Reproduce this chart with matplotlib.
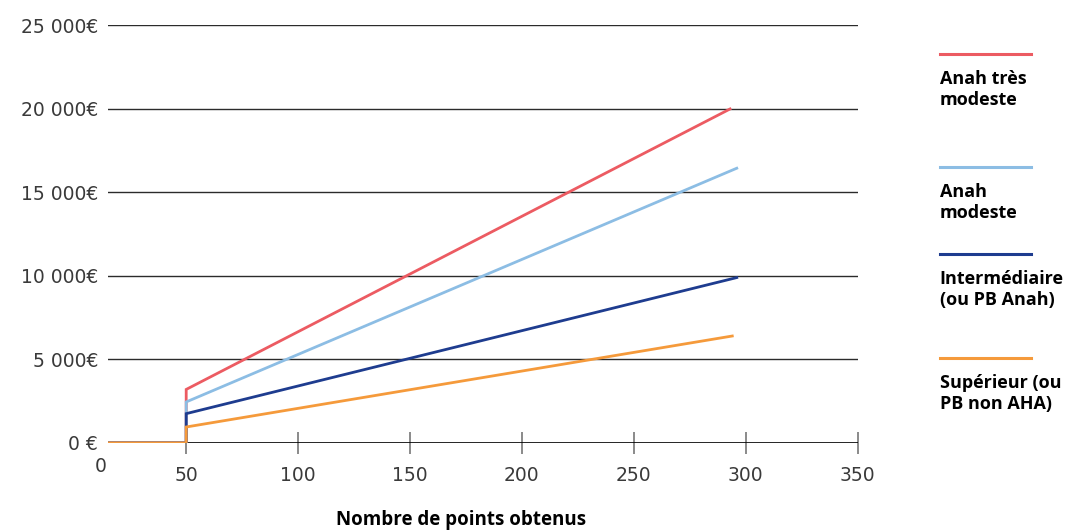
import matplotlib.pyplot as plt
from matplotlib.lines import Line2D

plt.rcParams['font.family'] = ['DejaVu Sans']

# data: points -> aid amount (0 up to 50 points, then linear)
series_names = ["Anah très\nmodeste", "Anah\nmodeste",
                "Intermédiaire\n(ou PB Anah)", "Supérieur (ou\nPB non AHA)"]
series_colors = ["#EC5B62", "#8CBDE4", "#1E3C8F", "#F59A3B"]
x_start = [0, 50, 50]
x_end = [293, 296, 296, 294]
y_at_50 = [3200, 2450, 1750, 950]
y_at_end = [20000, 16450, 9900, 6400]

y_ticks = [0, 5000, 10000, 15000, 20000, 25000]
y_labels = ["0 €", "5 000€", "10 000€", "15 000€", "20 000€", "25 000€"]
x_ticks = [50, 100, 150, 200, 250, 300, 350]

fig = plt.figure(figsize=(10.68, 5.31), dpi=100)
ax = fig.add_axes([0.101, 0.166, 0.702, 0.786])

for i in range(len(series_names)):
    xs = x_start + [x_end[i]]
    ys = [0, 0, y_at_50[i], y_at_end[i]]
    ax.plot(xs, ys, color=series_colors[i], lw=2, solid_joinstyle='miter',
            zorder=3 + (i == 3))

for y in y_ticks[1:]:
    ax.axhline(y, color="#2b2b2b", lw=1, zorder=1)
ax.axhline(0, color="black", lw=1.2, zorder=2)

ax.set_xlim(15, 350)
ax.set_ylim(0, 25000)
ax.set_yticks(y_ticks)
ax.set_yticklabels(y_labels)
ax.set_xticks(x_ticks)
ax.set_xticklabels([str(v) for v in x_ticks])
ax.tick_params(axis='y', length=0, pad=7, labelsize=13.5, labelcolor="#3a3a3a")
ax.tick_params(axis='x', direction='inout', length=16, width=1.2,
               color="#777777", pad=9, labelsize=13.5, labelcolor="#3a3a3a")
for s in ax.spines.values():
    s.set_visible(False)
ax.text(-0.01, -0.056, "0", transform=ax.transAxes, ha='center', va='center',
        fontsize=13.5, color="#3a3a3a")

fig.text(0.432, 0.02, "Nombre de points obtenus", ha='center', va='center',
         fontsize=13.5, fontweight='bold', family='Open Sans')

# legend drawn by hand on the right
leg_line_y = [0.898, 0.685, 0.522, 0.326]
for i in range(len(series_names)):
    fig.add_artist(Line2D([0.880, 0.965], [leg_line_y[i]] * 2,
                          color=series_colors[i], lw=2.2))
    fig.text(0.880, leg_line_y[i] - 0.03, series_names[i], ha='left', va='top',
             fontsize=13, fontweight='bold', family='Open Sans',
             linespacing=1.2)

fig.savefig("out.png", dpi=100)
